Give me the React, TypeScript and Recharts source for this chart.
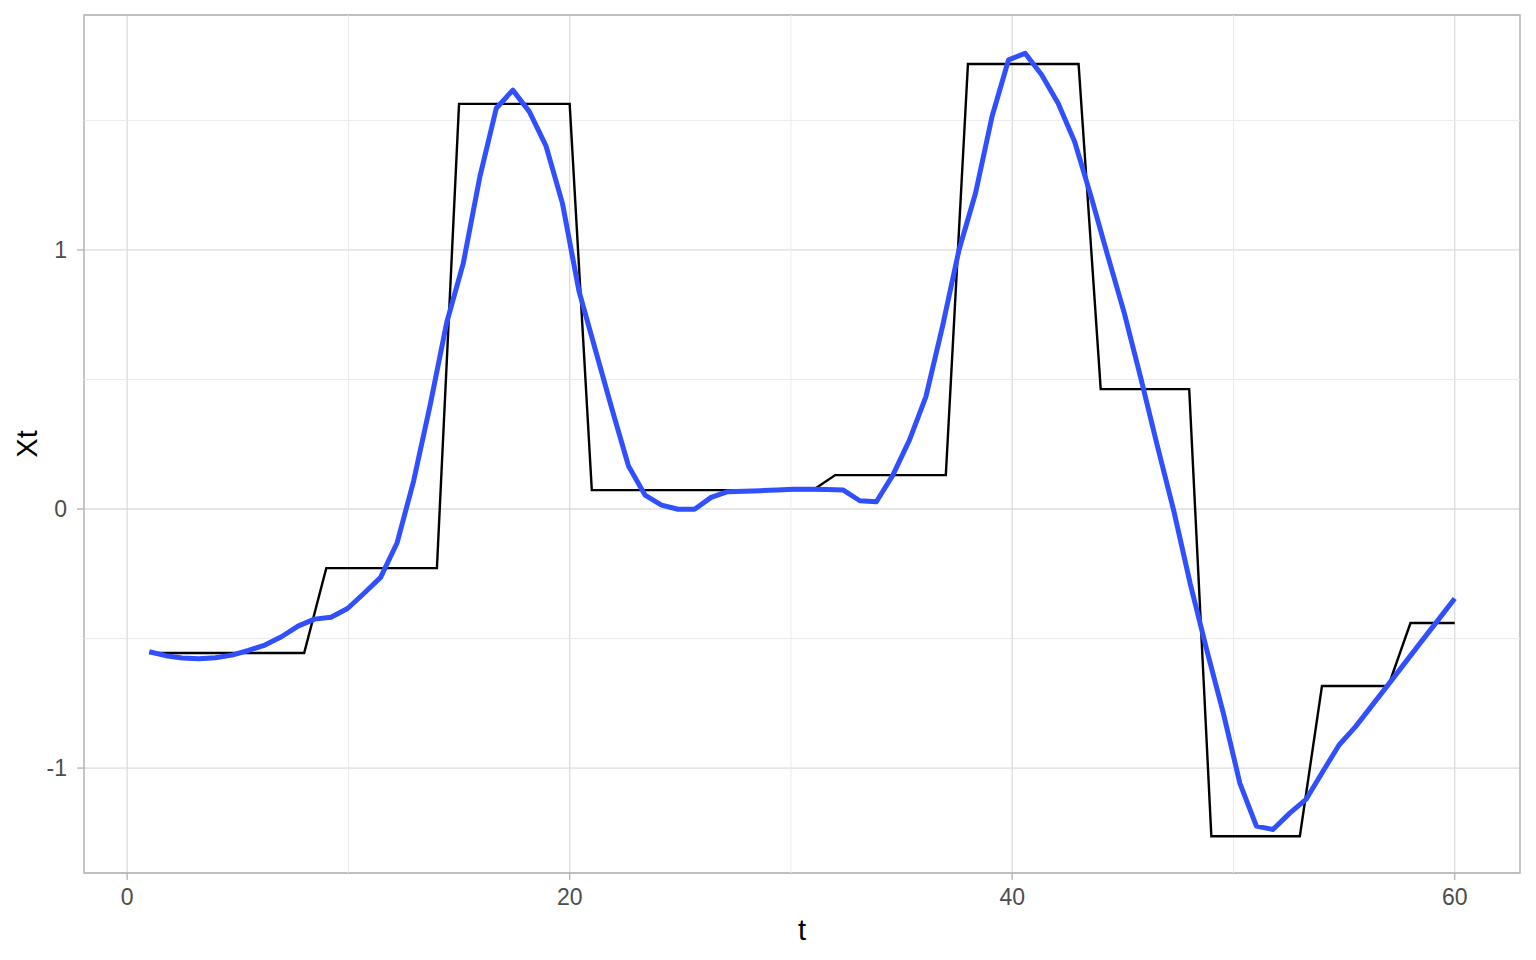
import {
  LineChart,
  Line,
  XAxis,
  YAxis,
  CartesianGrid,
  ReferenceLine,
  ReferenceArea,
  Label,
} from "recharts";

// Observed series Xt, one value per t = 1..60 (piecewise constant levels)
const stepValues = [
  -0.556, -0.556, -0.556, -0.556, -0.556, -0.556, -0.556, -0.556,
  -0.228, -0.228, -0.228, -0.228, -0.228, -0.228,
  1.564, 1.564, 1.564, 1.564, 1.564, 1.564,
  0.073, 0.073, 0.073, 0.073, 0.073, 0.073, 0.073, 0.073, 0.073, 0.073, 0.073,
  0.131, 0.131, 0.131, 0.131, 0.131, 0.131,
  1.718, 1.718, 1.718, 1.718, 1.718, 1.718,
  0.463, 0.463, 0.463, 0.463, 0.463,
  -1.263, -1.263, -1.263, -1.263, -1.263,
  -0.683, -0.683, -0.683, -0.683,
  -0.44, -0.44, -0.44,
];

// Smoothed fit, evaluated on 80 evenly spaced points between t = 1 and t = 60
const smoothValues = [
  -0.551, -0.566, -0.575, -0.578, -0.574, -0.564, -0.546, -0.525, -0.493, -0.452,
  -0.425, -0.418, -0.384, -0.325, -0.264, -0.13, 0.109, 0.402, 0.72, 0.948,
  1.281, 1.547, 1.617, 1.534, 1.403, 1.181, 0.842, 0.614, 0.386, 0.166,
  0.054, 0.015, -0.001, -0.001, 0.045, 0.067, 0.069, 0.071, 0.073, 0.076,
  0.076, 0.075, 0.073, 0.032, 0.028, 0.131, 0.266, 0.434, 0.704, 1.0,
  1.219, 1.515, 1.734, 1.759, 1.676, 1.566, 1.418, 1.205, 0.978, 0.757,
  0.506, 0.245, -0.007, -0.29, -0.546, -0.789, -1.059, -1.224, -1.237, -1.175,
  -1.121, -1.015, -0.911, -0.84, -0.758, -0.676, -0.593, -0.51, -0.428, -0.345,
];

const xTicks = [0, 20, 40, 60];
const xMinor = [10, 30, 50];
const yTicks = [-1, 0, 1];
const yMinor = [-0.5, 0.5, 1.5];

const X_DOMAIN: [number, number] = [-1.95, 62.95];
const Y_DOMAIN: [number, number] = [-1.405, 1.907];

const stepData = stepValues.map((y, i) => ({ t: i + 1, y }));
const smoothData = smoothValues.map((y, i) => ({
  t: 1 + (i * 59) / (smoothValues.length - 1),
  y,
}));

const FONT = "'Liberation Sans', Arial, Helvetica, sans-serif";
const tickStyle = { fontSize: 23, fill: "#4d4d4d", fontFamily: FONT };

export default function App() {
  return (
    <div style={{ position: "absolute", left: 0, top: 0, background: "#fff" }}>
      <LineChart
        width={1536}
        height={960}
        margin={{ top: 15, right: 16, bottom: 0, left: 0 }}
      >
        <CartesianGrid stroke="#dcdcdc" strokeWidth={1.3} />
        {xMinor.map((v) => (
          <ReferenceLine key={`x${v}`} x={v} stroke="#ebebeb" strokeWidth={1} />
        ))}
        {yMinor.map((v) => (
          <ReferenceLine key={`y${v}`} y={v} stroke="#ebebeb" strokeWidth={1} />
        ))}
        <XAxis
          type="number"
          dataKey="t"
          domain={X_DOMAIN}
          ticks={xTicks}
          allowDataOverflow
          height={87}
          tickSize={7}
          tickMargin={9}
          axisLine={false}
          tickLine={{ stroke: "#b3b3b3", strokeWidth: 1.3 }}
          tick={tickStyle}
        >
          <Label
            value="t"
            position="insideBottom"
            offset={20}
            style={{ fontSize: 29, fill: "#000", fontFamily: FONT }}
          />
        </XAxis>
        <YAxis
          type="number"
          dataKey="y"
          domain={Y_DOMAIN}
          ticks={yTicks}
          allowDataOverflow
          width={84}
          tickSize={7}
          tickMargin={10}
          axisLine={false}
          tickLine={{ stroke: "#b3b3b3", strokeWidth: 1.3 }}
          tick={tickStyle}
        >
          <Label
            value="Xt"
            angle={-90}
            position="insideLeft"
            offset={27}
            style={{ fontSize: 29, fill: "#000", fontFamily: FONT, textAnchor: "middle" }}
          />
        </YAxis>
        <ReferenceArea
          x1={X_DOMAIN[0]}
          x2={X_DOMAIN[1]}
          y1={Y_DOMAIN[0]}
          y2={Y_DOMAIN[1]}
          fill="none"
          stroke="#b3b3b3"
          strokeWidth={1.3}
          ifOverflow="visible"
        />
        <Line
          data={stepData}
          dataKey="y"
          type="linear"
          stroke="#000"
          strokeWidth={2.4}
          dot={false}
          isAnimationActive={false}
        />
        <Line
          data={smoothData}
          dataKey="y"
          type="linear"
          stroke="#3050ff"
          strokeWidth={5}
          strokeLinejoin="round"
          dot={false}
          isAnimationActive={false}
        />
      </LineChart>
    </div>
  );
}
